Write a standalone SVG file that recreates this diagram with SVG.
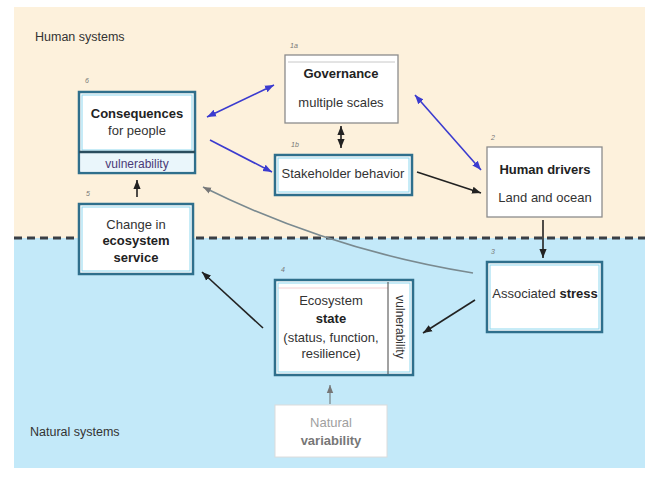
<svg xmlns="http://www.w3.org/2000/svg" width="650" height="485" viewBox="0 0 650 485">
<defs>
<style>
text{font-family:"Liberation Sans",Arial,sans-serif;font-size:13px;fill:#333;text-anchor:middle}
.b{font-weight:bold;fill:#222}
.lbl{font-size:7px;font-style:italic;fill:#777;text-anchor:start}
.zone{font-size:12.5px;text-anchor:start;fill:#333}
.teal{fill:#fff;stroke:#2f6f8c;stroke-width:2.5}
.tealin{fill:none;stroke:#8fd8ef;stroke-width:1}
.gray{fill:#fff;stroke:#8c8c8c;stroke-width:1.3}
.con{fill:none;stroke-width:1.6}
.k{stroke:#222}
.bl{stroke:#3b3bcf}
</style>
<marker id="ak" viewBox="0 0 10 10" refX="10" refY="5" markerWidth="9" markerHeight="9" markerUnits="userSpaceOnUse" orient="auto-start-reverse"><path d="M0,1 L10,5 L0,9 Z" fill="#222"/></marker>
<marker id="ab" viewBox="0 0 10 10" refX="10" refY="5" markerWidth="9" markerHeight="9" markerUnits="userSpaceOnUse" orient="auto-start-reverse"><path d="M0,1 L10,5 L0,9 Z" fill="#3b3bcf"/></marker>
<marker id="ag" viewBox="0 0 10 10" refX="10" refY="5" markerWidth="8" markerHeight="8" markerUnits="userSpaceOnUse" orient="auto"><path d="M0,1 L10,5 L0,9 Z" fill="#777"/></marker>
</defs>
<rect x="0" y="0" width="650" height="485" fill="#fff"/>
<rect x="14" y="7" width="631" height="231" fill="#fdf1dc"/>
<rect x="14" y="238" width="631" height="230" fill="#c3e9f9"/>
<line x1="14" y1="238" x2="645" y2="238" stroke="#3a3f45" stroke-width="3" stroke-dasharray="8 5"/>
<text class="zone" x="35" y="41">Human systems</text>
<text class="zone" x="30" y="436">Natural systems</text>

<g id="connectors">
<path class="con bl" d="M207,117 L274,85" marker-start="url(#ab)" marker-end="url(#ab)"/>
<path class="con bl" d="M210,140 L272,172" marker-end="url(#ab)"/>
<path class="con bl" d="M415,95 L481,170" marker-start="url(#ab)" marker-end="url(#ab)"/>
<path class="con k" d="M341,126 L341,148" marker-start="url(#ak)" marker-end="url(#ak)"/>
<path class="con k" d="M417,172 L481,193" marker-end="url(#ak)"/>
<path class="con k" d="M543,220 L543,258" marker-end="url(#ak)"/>
<path class="con k" d="M475,300 L423,333" marker-end="url(#ak)"/>
<path class="con k" d="M263,328 L202,272" marker-end="url(#ak)"/>
<path class="con k" d="M137,197 L137,180" marker-end="url(#ak)"/>
<path class="con" stroke="#7a8a90" stroke-width="1.3" d="M473,273 Q330,250 203,187" marker-end="url(#ag)"/>
<path class="con" stroke="#8a9aa0" stroke-width="1" d="M330,404 L330,385" marker-end="url(#ag)"/>
</g>

<g id="consequences">
<rect class="teal" x="79" y="92" width="116" height="81"/>
<rect class="tealin" x="82" y="95" width="110" height="55"/>
<rect x="80.5" y="152" width="113" height="19.5" fill="#eaf6fb"/>
<line x1="79" y1="152" x2="195" y2="152" stroke="#2a4d5e" stroke-width="2.5"/>
<text class="lbl" x="85" y="83">6</text>
<text class="b" x="137" y="117.5">Consequences</text>
<text x="137" y="134.5" fill="#555">for people</text>
<text x="137" y="168" style="font-size:12px;fill:#4a3b78">vulnerability</text>
</g>

<g id="change">
<rect class="teal" x="79" y="204" width="114" height="70" fill="#f6fbfe"/>
<rect class="tealin" x="82" y="207" width="108" height="64"/>
<text class="lbl" x="86" y="196">5</text>
<text x="136" y="228.5" fill="#555">Change in</text>
<text class="b" x="136" y="244.5">ecosystem</text>
<text class="b" x="136" y="261.5">service</text>
</g>

<g id="governance">
<rect class="gray" x="285" y="55" width="113" height="68"/>
<line x1="288" y1="62" x2="395" y2="62" stroke="#c8c8c8" stroke-width="1"/>
<text class="lbl" x="290" y="48">1a</text>
<text class="b" x="341" y="77.5">Governance</text>
<text x="341" y="106.5" fill="#555">multiple scales</text>
</g>

<g id="stakeholder">
<rect class="teal" x="275" y="155" width="137" height="40"/>
<rect class="tealin" x="278" y="158" width="131" height="34"/>
<text class="lbl" x="291" y="147">1b</text>
<text x="343" y="177.5">Stakeholder behavior</text>
</g>

<g id="drivers">
<rect class="gray" x="487" y="147" width="115" height="70"/>
<text class="lbl" x="491" y="140">2</text>
<text class="b" x="545" y="173.5">Human drivers</text>
<text x="545" y="201.5" fill="#555">Land and ocean</text>
</g>

<g id="stress">
<rect class="teal" x="487" y="262" width="115" height="70"/>
<rect class="tealin" x="490" y="265" width="109" height="64"/>
<text class="lbl" x="491" y="254">3</text>
<text x="545" y="297.5">Associated <tspan class="b">stress</tspan></text>
</g>

<g id="ecostate">
<rect class="teal" x="275" y="280" width="138" height="95"/>
<rect class="tealin" x="278" y="283" width="132" height="89"/>
<line x1="278" y1="288" x2="388" y2="288" stroke="#f2c4c8" stroke-width="0.8"/>
<line x1="388" y1="282" x2="388" y2="374" stroke="#444" stroke-width="1"/>
<text class="lbl" x="281" y="272">4</text>
<text x="331" y="304.5" fill="#555">Ecosystem</text>
<text class="b" x="331" y="322.5">state</text>
<text x="331" y="341.5" fill="#555">(status, function,</text>
<text x="331" y="357.5" fill="#555">resilience)</text>
<text x="0" y="0" transform="translate(396,327) rotate(90)" style="font-size:12px">vulnerability</text>
</g>

<g id="natural">
<rect x="275" y="405" width="112" height="52" fill="#fff" stroke="#dcdcdc" stroke-width="1"/>
<text x="331" y="427" style="fill:#a0a0a0">Natural</text>
<text class="b" x="331" y="445" style="fill:#777">variability</text>
</g>
</svg>
